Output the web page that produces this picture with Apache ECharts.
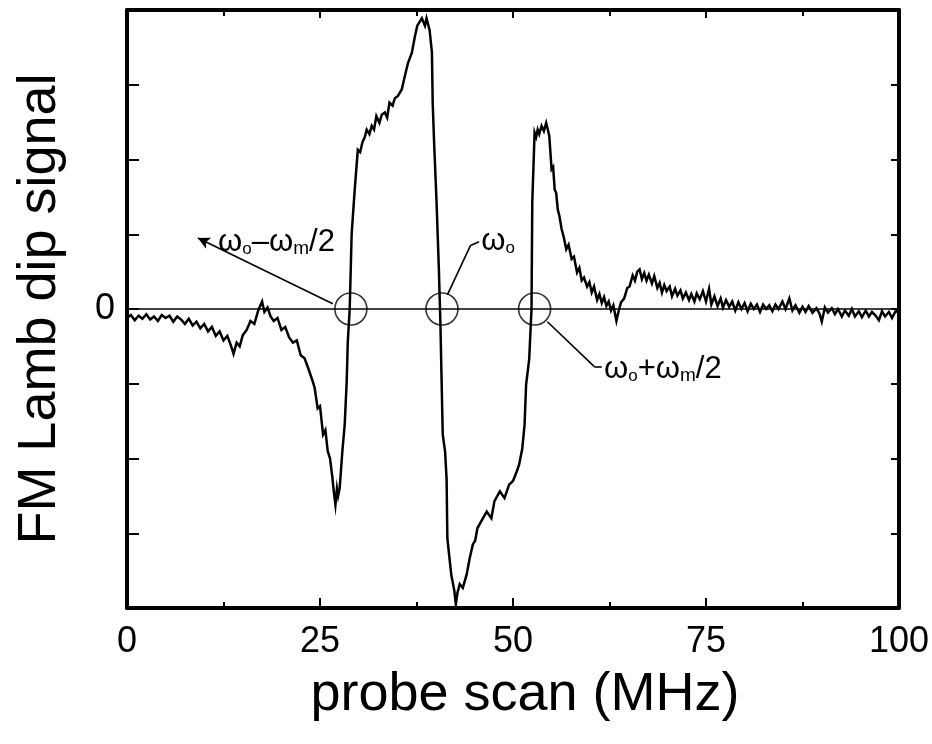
<!DOCTYPE html>
<html>
<head>
<meta charset="utf-8">
<script src="https://cdn.jsdelivr.net/npm/echarts@6/dist/echarts.min.js"></script>
<style>
html, body { margin: 0; padding: 0; background: #fff; }
#main { width: 932px; height: 744px; }
</style>
</head>
<body>
<div id="main"></div>
<script>
var fontName = "'Liberation Sans', Arial, Helvetica, sans-serif";

// probe scan (MHz)
var scanX = [
    0, 0.5, 1, 1.5, 2, 2.5, 3, 3.5, 4, 4.5, 5, 5.5, 6, 6.5, 7, 7.5, 8, 8.5, 9, 9.5,
    10, 10.5, 11, 11.5, 12, 12.5, 13, 13.5, 13.8, 14.2, 14.6, 15, 15.5, 16, 16.5, 17,
    17.5, 17.8, 18.2, 18.6, 19, 19.5, 20, 20.5, 21, 21.5, 22, 22.5, 23, 23.5, 24, 24.3,
    24.7, 25, 25.4, 25.7, 26, 26.3, 26.6, 26.8, 27.0, 27.2, 27.35, 27.55, 27.9, 28.2,
    28.46, 28.6, 28.85, 29.1, 29.5, 29.9, 30.2, 30.5, 30.8, 31.05, 31.4, 31.7, 32.0,
    32.3, 32.7, 33.0, 33.4, 33.7, 34.0, 34.4, 34.7, 35.1, 35.6, 36.0, 36.4, 36.9, 37.3,
    37.6, 38.2, 38.6, 38.8, 39.2, 39.5, 39.6, 39.8, 40.1, 40.4, 40.6, 40.9, 41.2, 41.4,
    41.5, 42.0, 42.4, 42.6, 42.8, 43.1, 43.5, 44.0, 44.4, 44.8, 45.1, 45.4, 46.1, 46.6,
    47.2, 47.6, 48.3, 48.9, 49.5, 50.0, 50.5, 50.8, 51.2, 51.5, 51.7, 52.1, 52.4, 52.5,
    52.8, 53.0, 53.2, 53.4, 53.7, 54.0, 54.3, 54.7, 55.0, 55.2, 55.4, 55.6, 55.8, 56.0,
    56.3, 56.6, 56.9, 57.2, 57.6, 57.9, 58.3, 58.6, 58.9, 59.2, 59.6, 59.9, 60.2, 60.5,
    60.9, 61.2, 61.5, 61.8, 62.1, 62.4, 62.7, 63.0, 63.4, 63.7, 64.0, 64.4, 64.8, 65.1,
    65.5, 65.8, 66.1, 66.4, 66.7, 67.0, 67.3, 67.6, 68.0, 68.3, 68.7, 69.0, 69.3, 69.6,
    69.9, 70.3, 70.6, 71.0, 71.3, 71.7, 72.0, 72.4, 72.8, 73.1, 73.5, 73.8, 74.2, 74.6,
    75.0, 75.4, 75.7, 76.1, 76.5, 76.9, 77.2, 77.6, 78.0, 78.4, 78.8, 79.2, 79.6, 80.0,
    80.4, 80.8, 81.2, 81.6, 82.0, 82.4, 82.8, 83.2, 83.6, 84.0, 84.4, 84.9, 85.3, 85.8,
    86.2, 86.6, 87.1, 87.5, 87.9, 88.3, 88.8, 89.3, 89.7, 90.0, 90.4, 90.8, 91.3, 91.7,
    92.1, 92.6, 93.0, 93.5, 93.9, 94.3, 94.8, 95.2, 95.7, 96.1, 96.5, 97.0, 97.4, 97.8,
    98.2, 98.7, 99.1, 99.6, 100
];

// FM Lamb dip signal (arb. units, zero line at 0)
var signalY = [
    -0.12, -0.08, -0.15, -0.09, -0.13, -0.07, -0.14, -0.1, -0.16, -0.08, -0.12, -0.09, -0.17, -0.1, -0.14, -0.2, -0.13, -0.22, -0.17, -0.26,
    -0.2, -0.3, -0.24, -0.36, -0.3, -0.42, -0.36, -0.5, -0.6, -0.45, -0.5, -0.35, -0.28, -0.16, -0.2, -0.02,
    0.1, -0.04, 0.02, -0.1, -0.16, -0.12, -0.28, -0.24, -0.38, -0.45, -0.42, -0.62, -0.66, -0.8, -0.95, -1.05,
    -1.33, -1.3, -1.68, -1.62, -1.9, -2.0, -2.25, -2.45, -2.62, -2.4, -2.5, -2.4, -1.9, -1.55,
    -0.97, -0.44, 0, 1.0, 1.6, 2.13, 2.1, 2.23, 2.3, 2.4, 2.34, 2.45, 2.4,
    2.58, 2.49, 2.6, 2.63, 2.56, 2.76, 2.72, 2.82, 2.85, 2.94, 3.12, 3.29, 3.43, 3.65,
    3.79, 3.89, 3.79, 3.89, 3.73, 3.43, 2.76, 2.18, 1.43, 0.53, -0.2, -1.68, -1.9, -2.27,
    -3.07, -3.55, -3.77, -3.95, -3.8, -3.68, -3.73, -3.55, -3.33, -3.15, -3.1, -2.93, -2.8, -2.71,
    -2.8, -2.57, -2.44, -2.53, -2.35, -2.3, -2.17, -2.08, -1.87, -1.55, -1.01, -0.67, 0, 1.43,
    2.36, 2.3, 2.4, 2.34, 2.45, 2.38, 2.49, 2.32, 1.87, 1.9, 1.6, 1.55, 1.33, 1.25,
    1.07, 0.95, 0.8, 0.86, 0.67, 0.7, 0.49, 0.55, 0.38, 0.42, 0.3, 0.36, 0.22, 0.3,
    0.12, 0.2, 0.08, 0.16, 0.04, 0.1, -0.02, 0.05, -0.16, -0.02, 0.09, 0.14, 0.28, 0.3,
    0.45, 0.38, 0.5, 0.53, 0.4, 0.48, 0.38, 0.46, 0.34, 0.44, 0.28, 0.35, 0.22, 0.32,
    0.24, 0.3, 0.17, 0.27, 0.18, 0.25, 0.14, 0.22, 0.12, 0.2, 0.1, 0.21, 0.13, 0.24,
    0.1, 0.27, 0.06, 0.17, 0.04, 0.14, 0.02, 0.12, 0.03, 0.1, -0.02, 0.09, 0.0, 0.08,
    -0.03, 0.07, 0.0, 0.06, -0.04, 0.06, 0.0, 0.05, -0.03, 0.06, 0.0, 0.1, 0.0, 0.14,
    -0.02, 0.05, -0.05, 0.03, -0.04, 0.04, -0.05, 0.01, -0.06, -0.17, 0.02, -0.05, 0.01, -0.07,
    0.0, -0.1, -0.02, -0.09, 0.0, -0.1, -0.03, -0.11, -0.02, -0.1, -0.04, -0.09, -0.15, -0.03,
    -0.1, -0.04, -0.12, -0.02, -0.06
];

// zero crossings marked with circles
var crossX = [29.0, 40.8, 52.8];
var crossY = [0, 0, 0];

// zero line
var zeroX = [0, 100];
var zeroY = [0, 0];

// annotation texts, anchored in data coords (left edge, vertical middle)
var noteText = [
    '{w|ω}{s|o}{w|–ω}{m|m}{w|/2}',
    '{w|ω}{s|o}',
    '{w|ω}{s|o}{w|+ω}{m|m}{w|/2}'
];
var noteX = [11.8, 45.9, 61.8];
var noteY = [0.89, 0.9, -0.81];

// leader lines
var leaderA = [[26.65, 0.07], [9.18, 0.95]];
var leaderB = [[41.5, 0.19], [44.5, 0.85], [45.6, 0.9]];
var leaderC = [[54.46, -0.17], [60.54, -0.77], [61.5, -0.77]];

function pairs(xs, ys) {
    var out = [];
    for (var i = 0; i < xs.length; i++) {
        out.push([xs[i], ys[i]]);
    }
    return out;
}

function segs(pts, arrowEnd) {
    var out = [];
    for (var i = 0; i < pts.length - 1; i++) {
        var end = { coord: pts[i + 1] };
        if (arrowEnd && i == pts.length - 2) {
            end.symbol = 'arrow';
            end.symbolSize = [9, 12];
        }
        out.push([{ coord: pts[i] }, end]);
    }
    return out;
}

var myChart = echarts.init(document.getElementById('main'));

var xAxisBase = {
    type: 'value',
    min: 0,
    max: 100,
    interval: 25,
    splitLine: { show: false },
    axisLine: { onZero: false, lineStyle: { color: '#000', width: 4 } },
    axisTick: { inside: true, length: 10, lineStyle: { color: '#000', width: 2 } },
    minorTick: { show: true, splitNumber: 2, length: 6, lineStyle: { color: '#000', width: 2 } },
    minorSplitLine: { show: false }
};

var yAxisBase = {
    type: 'value',
    min: -4,
    max: 4,
    interval: 1,
    splitLine: { show: false },
    axisLine: { onZero: false, lineStyle: { color: '#000', width: 4 } },
    axisTick: { inside: true, length: 10, lineStyle: { color: '#000', width: 2 } }
};

var option = {
    backgroundColor: '#fff',
    animation: false,
    grid: {
        left: 127,
        right: 32,
        top: 10,
        bottom: 136
    },
    xAxis: [
        echarts.util.merge({
            position: 'bottom',
            name: 'probe scan (MHz)',
            nameLocation: 'middle',
            nameGap: 60,
            nameTextStyle: { fontFamily: fontName, fontSize: 54, color: '#000', padding: [0, 0, 0, 24] },
            axisLabel: { fontFamily: fontName, fontSize: 36, color: '#000', margin: 16 }
        }, xAxisBase, false),
        echarts.util.merge({
            position: 'top',
            axisLabel: { show: false },
            axisTick: { length: 8 }
        }, xAxisBase, false)
    ],
    yAxis: [
        echarts.util.merge({
            position: 'left',
            name: 'FM Lamb dip signal',
            nameLocation: 'middle',
            nameGap: 60,
            nameTextStyle: { fontFamily: fontName, fontSize: 54, color: '#000' },
            axisLabel: {
                fontFamily: fontName,
                fontSize: 36,
                color: '#000',
                margin: 12,
                formatter: function (v) { return v === 0 ? '0' : ''; }
            },
            axisTick: { length: 12 }
        }, yAxisBase, false),
        echarts.util.merge({
            position: 'right',
            axisLabel: { show: false },
            axisTick: { length: 8 }
        }, yAxisBase, false)
    ],
    series: [{
        name: 'zero',
        type: 'line',
        data: pairs(zeroX, zeroY),
        symbol: 'none',
        lineStyle: { color: '#000', width: 1.6 },
        z: 2
    }, {
        name: 'signal',
        type: 'line',
        data: pairs(scanX, signalY),
        symbol: 'none',
        lineStyle: { color: '#000', width: 2.5, join: 'miter' },
        z: 3
    }, {
        name: 'crossings',
        type: 'scatter',
        data: pairs(crossX, crossY),
        symbol: 'circle',
        symbolSize: 32,
        itemStyle: { color: 'rgba(0,0,0,0)', borderColor: '#000', borderWidth: 1.6 },
        silent: true,
        z: 4,
        markLine: {
            silent: true,
            symbol: ['none', 'none'],
            label: { show: false },
            lineStyle: { color: '#000', width: 1.6, type: 'solid' },
            data: segs(leaderA, true).concat(segs(leaderB, false), segs(leaderC, false))
        }
    }]
};

myChart.setOption(option);

// annotation texts
var richStyle = {
    w: { fontFamily: fontName, fontSize: 31, fill: '#000', verticalAlign: 'bottom' },
    s: { fontFamily: fontName, fontSize: 17, fill: '#000', verticalAlign: 'bottom' },
    m: { fontFamily: fontName, fontSize: 19, fill: '#000', verticalAlign: 'bottom' }
};
var notes = [];
for (var i = 0; i < noteText.length; i++) {
    var p = myChart.convertToPixel({ gridIndex: 0 }, [noteX[i], noteY[i]]);
    notes.push({
        type: 'text',
        x: p[0],
        y: p[1],
        style: {
            text: noteText[i],
            rich: richStyle,
            fill: '#000',
            align: 'left',
            verticalAlign: 'middle'
        },
        z: 10
    });
}
myChart.setOption({ graphic: notes });
</script>
</body>
</html>
